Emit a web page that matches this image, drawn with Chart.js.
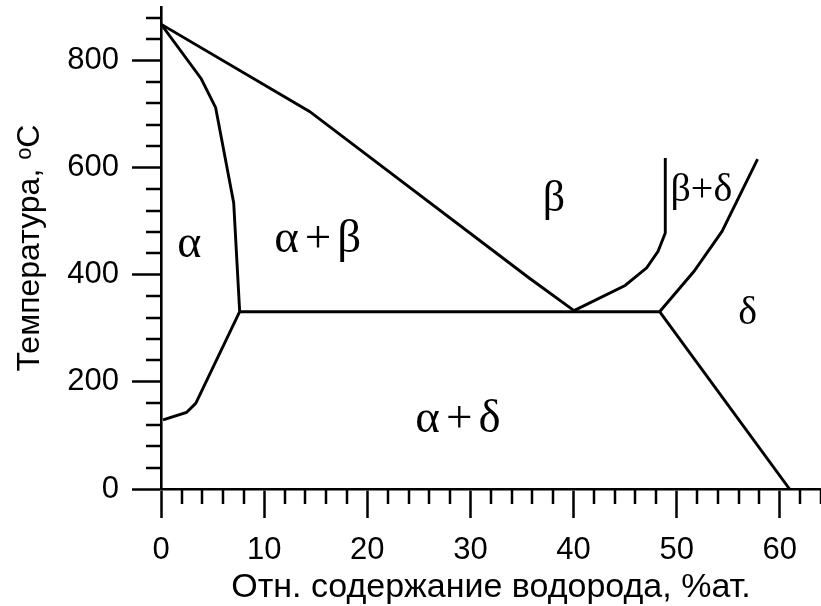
<!DOCTYPE html>
<html>
<head>
<meta charset="utf-8">
<script src="https://cdn.jsdelivr.net/npm/chart.js@4.4.1/dist/chart.umd.min.js"></script>
<style>
  html, body { margin: 0; padding: 0; background: #ffffff; }
  #wrap { width: 821px; height: 606px; }
</style>
</head>
<body>
<div id="wrap"><canvas id="diagram" width="821" height="606"></canvas></div>
<script>
// Phase diagram of the metal–hydrogen system: temperature (°C) vs. hydrogen content (at.%)

// α solvus, upper branch (α / α+β)
const alphaUpperX = [0, 3.9, 5.3, 7.05, 7.63];
const alphaUpperY = [868, 766, 712, 534, 331];

// α solvus, lower branch (α / α+δ)
const alphaLowerX = [0.2, 2.47, 3.37, 7.63];
const alphaLowerY = [129, 143, 160, 331];

// β transus (α+β / β)
const betaTransusX = [0, 14.4, 35.7, 40.05];
const betaTransusY = [868, 705, 394, 333];

// eutectoid isotherm
const eutectoidX = [7.63, 48.35];
const eutectoidY = [331, 331];

// β / β+δ boundary
const betaDeltaX = [40.05, 45.0, 47.1, 48.2, 48.9, 48.9];
const betaDeltaY = [333, 380, 413, 444, 478, 618];

// β+δ / δ boundary
const deltaUpperX = [48.35, 51.67, 54.4, 57.85];
const deltaUpperY = [331, 406, 481, 616];

// α+δ / δ boundary
const deltaLowerX = [48.35, 60.95];
const deltaLowerY = [331, 0];

// phase field labels, their positions (at.%, °C) and type sizes
const phaseLabels = ['α', 'α+β', 'β', 'β+δ', 'δ', 'α+δ'];
const phaseLabelX = [2.75, 15.2, 38.1, 52.4, 56.9, 28.8];
const phaseLabelY = [455, 465, 540, 558, 327, 130];
const phaseLabelSize = [46, 47, 44, 40, 40, 47];
const phaseLabelGap = [0, 6, 0, 0, 0, 6];

// axis ticks
const xMajorTicks = [0, 10, 20, 30, 40, 50, 60];
const yMajorTicks = [0, 200, 400, 600, 800];
const xMinorStep = 2;
const yMinorStep = 40;

const xTitle = 'Отн. содержание водорода, %ат.';
const yTitle = 'Температура, ᵒC';

const X_MAX = 64;
const Y_MAX = 900;

const SANS = '"Liberation Sans", Arial, sans-serif';
const SERIF = '"Liberation Serif", "Times New Roman", serif';
const INK = '#000000';

function minorValues(step, max, majors) {
  const out = [];
  for (let v = step; v <= max + 1e-9; v += step) {
    if (!majors.includes(Math.round(v * 1000) / 1000)) out.push(v);
  }
  return out;
}

function line(xs, ys) {
  return {
    data: xs.map((x, i) => ({ x: x, y: ys[i] })),
    showLine: true,
    borderColor: INK,
    borderWidth: 2.9,
    pointRadius: 0,
    tension: 0,
    fill: false,
    borderJoinStyle: 'miter',
    borderCapStyle: 'butt'
  };
}

// short ticks between the labelled ones
const minorTicks = {
  id: 'minorTicks',
  afterDraw(chart) {
    const { ctx, scales: { x, y } } = chart;
    const len = 15;
    ctx.save();
    ctx.strokeStyle = INK;
    ctx.lineWidth = 2.5;
    ctx.lineCap = 'butt';
    ctx.beginPath();
    for (const v of minorValues(xMinorStep, X_MAX, xMajorTicks)) {
      const px = Math.round(x.getPixelForValue(v));
      ctx.moveTo(px, x.top);
      ctx.lineTo(px, x.top + len);
    }
    for (const v of minorValues(yMinorStep, Y_MAX, yMajorTicks)) {
      const py = Math.round(y.getPixelForValue(v));
      ctx.moveTo(y.right, py);
      ctx.lineTo(y.right - len, py);
    }
    ctx.stroke();
    ctx.restore();
  }
};

// names of the phase fields
const fieldLabels = {
  id: 'fieldLabels',
  afterDatasetsDraw(chart) {
    const { ctx, scales: { x, y } } = chart;
    ctx.save();
    ctx.fillStyle = INK;
    ctx.textAlign = 'center';
    ctx.textBaseline = 'middle';
    phaseLabels.forEach((t, i) => {
      ctx.font = phaseLabelSize[i] + 'px ' + SERIF;
      ctx.letterSpacing = phaseLabelGap[i] + 'px';
      ctx.fillText(t, x.getPixelForValue(phaseLabelX[i]) + phaseLabelGap[i] / 2, y.getPixelForValue(phaseLabelY[i]));
    });
    ctx.restore();
  }
};

new Chart(document.getElementById('diagram'), {
  type: 'scatter',
  data: {
    datasets: [
      line(alphaUpperX, alphaUpperY),
      line(alphaLowerX, alphaLowerY),
      line(betaTransusX, betaTransusY),
      line(eutectoidX, eutectoidY),
      line(betaDeltaX, betaDeltaY),
      line(deltaUpperX, deltaUpperY),
      line(deltaLowerX, deltaLowerY)
    ]
  },
  options: {
    responsive: false,
    devicePixelRatio: 1,
    animation: false,
    events: [],
    layout: { padding: { top: 7, right: 0, bottom: 0, left: 0 } },
    plugins: { legend: { display: false }, tooltip: { enabled: false } },
    scales: {
      x: {
        type: 'linear',
        min: 0,
        max: X_MAX,
        afterBuildTicks: (s) => { s.ticks = xMajorTicks.map(v => ({ value: v })); },
        afterFit: (s) => { s.height = 117; s.paddingRight = 0; },
        grid: { drawOnChartArea: false, drawTicks: true, tickLength: 29, tickWidth: 2.5, tickColor: INK },
        border: { display: true, color: INK, width: 2.6 },
        ticks: {
          color: INK, font: { family: SANS, size: 31 }, padding: 14,
          maxRotation: 0, autoSkip: false, callback: (v) => String(v)
        },
        title: {
          display: true, text: xTitle, color: INK,
          font: { family: SANS, size: 34, lineHeight: 1 }, padding: { top: 0, bottom: 1 }
        }
      },
      y: {
        type: 'linear',
        min: 0,
        max: Y_MAX,
        afterBuildTicks: (s) => { s.ticks = yMajorTicks.map(v => ({ value: v })); },
        afterFit: (s) => { s.width = 161; s.paddingTop = 0; s.paddingBottom = 0; },
        grid: { drawOnChartArea: false, drawTicks: true, tickLength: 29, tickWidth: 2.5, tickColor: INK },
        border: { display: true, color: INK, width: 2.6 },
        ticks: {
          color: INK, font: { family: SANS, size: 31 }, padding: 13,
          autoSkip: false, callback: (v) => String(v)
        },
        title: {
          display: true, text: yTitle, color: INK,
          font: { family: SANS, size: 32, lineHeight: 1 }, padding: { top: 14, bottom: 0 }
        }
      }
    }
  },
  plugins: [minorTicks, fieldLabels]
});
</script>
</body>
</html>
